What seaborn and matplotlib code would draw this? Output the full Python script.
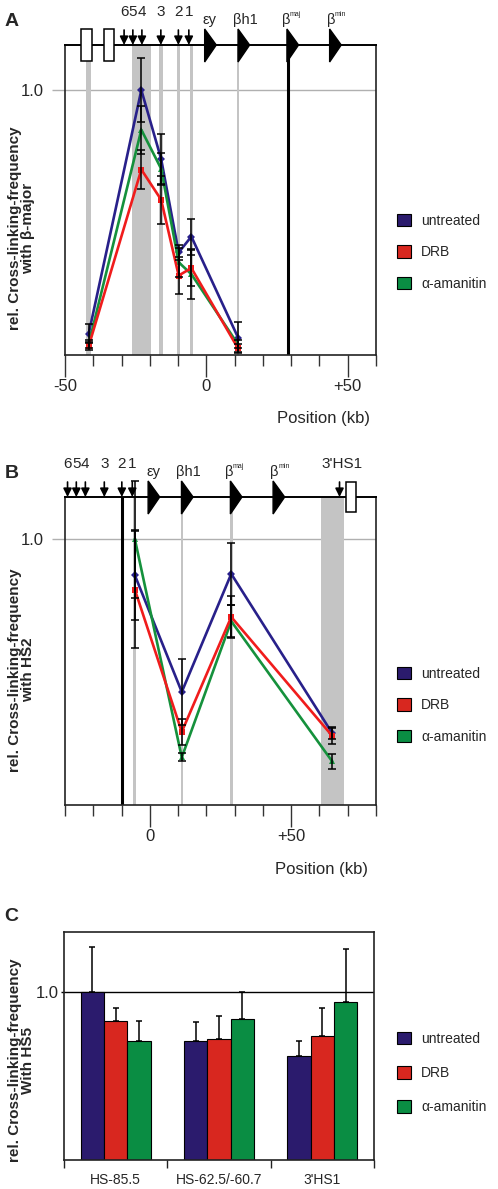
import numpy as np
import pandas as pd
import matplotlib
matplotlib.use("Agg")
import matplotlib.pyplot as plt
import matplotlib.transforms as mtransforms
from matplotlib.patches import Patch, Rectangle, Polygon
from matplotlib.ticker import MultipleLocator, FixedLocator
import seaborn as sns

# ---------------- data ----------------
treatments = ["untreated", "DRB", "α-amanitin"]

# Panel A (anchor: beta-major)
a_pos = [-41.6, -23.0, -16.0, -9.8, -5.3, 11.2]
a_untreated = [0.081, 1.0, 0.74, 0.387, 0.447, 0.066]
a_drb = [0.034, 0.70, 0.586, 0.30, 0.328, 0.025]
a_amanitin = [0.042, 0.85, 0.703, 0.35, 0.305, 0.04]
a_err_untreated = [0.036, 0.12, 0.095, 0.03, 0.068, 0.057]
a_err_drb = [0.015, 0.075, 0.09, 0.07, 0.068, 0.015]
a_err_amanitin = [0.015, 0.09, 0.06, 0.055, 0.095, 0.015]

# Panel B (anchor: HS2)
b_pos = [-5.3, 11.3, 28.8, 64.5]
b_untreated = [0.864, 0.425, 0.869, 0.27]
b_drb = [0.81, 0.275, 0.707, 0.26]
b_amanitin = [1.0, 0.179, 0.691, 0.164]
b_err_untreated = [0.17, 0.125, 0.116, 0.02]
b_err_drb = [0.22, 0.05, 0.08, 0.032]
b_err_amanitin = [0.22, 0.015, 0.06, 0.027]

# Panel C (anchor: HS5)
c_sites = ["HS-85.5", "HS-62.5/-60.7", "3'HS1"]
c_untreated = [1.0, 0.706, 0.615]
c_drb = [0.827, 0.716, 0.738]
c_amanitin = [0.706, 0.839, 0.939]
c_err_untreated = [0.265, 0.111, 0.091]
c_err_drb = [0.074, 0.141, 0.163]
c_err_amanitin = [0.122, 0.157, 0.316]

# locus map annotations (kb)
hs_labels = ["6", "5", "4", "3", "2", "1"]
hs_pos = [-29.1, -26.0, -22.8, -16.1, -9.9, -6.2]
gene_labels = ["εy", "βh1", "β", "β"]
gene_sups = ["", "", "maj", "min"]
gene_pos = [-0.6, 11.2, 28.5, 43.6]
a_boxes = [(-44.2, -40.6), (-36.2, -32.7)]
b_boxes = [(69.4, 73.0)]
b_extra_arrow_pos = [67.1]
b_extra_arrow_labels = ["3'HS1"]
a_probes = [(-42.4, -40.8), (-26.4, -19.5), (-16.7, -15.3), (-10.3, -9.3), (-5.8, -4.8), (10.7, 11.7)]
b_probes = [(-5.8, -4.8), (10.9, 11.8), (28.4, 29.3), (60.6, 68.6)]
a_anchor = 28.9
b_anchor = -9.7

# ---------------- style ----------------
sns.set_style("white")
plt.rcParams["font.family"] = ["Liberation Sans", "DejaVu Sans"]

line_colors = {"untreated": "#28208a", "DRB": "#f01c1c", "α-amanitin": "#15913c"}
bar_colors = ["#2b1b6d", "#d8271f", "#0a8d43"]
markers = {"untreated": "D", "DRB": "s", "α-amanitin": "^"}
PX = 0.72  # points per pixel at 100 dpi

W, H = 498, 1189
fig = plt.figure(figsize=(W / 100, H / 100), dpi=100)


def rect(l, t, r, b):
    return [l / W, 1 - b / H, (r - l) / W, (b - t) / H]


axA = fig.add_axes(rect(65, 45, 376, 355))
axB = fig.add_axes(rect(65, 497, 376, 805))
axC = fig.add_axes(rect(64, 932, 374, 1160))


def long_df(pos, series):
    rows = []
    for name, vals in zip(treatments, series):
        for p, v in zip(pos, vals):
            rows.append({"pos": p, "value": v, "treatment": name})
    return pd.DataFrame(rows)


def line_panel(ax, pos, series, errs, probes, anchor, xlim, ylim, majors, major_labels):
    ax.set_xlim(*xlim)
    ax.set_ylim(*ylim)
    ax.axhline(1.0, color="#b0b0b0", lw=1.0, zorder=0.5)
    for s, e in probes:
        ax.axvspan(s, e, color="#c4c4c4", lw=0, zorder=0.6)
    ax.axvline(anchor, color="black", lw=2.2, zorder=1)
    df = long_df(pos, series)
    sns.lineplot(data=df, x="pos", y="value", hue="treatment",
                 hue_order=["untreated", "α-amanitin", "DRB"],
                 palette=line_colors, style="treatment", markers=markers,
                 dashes=False, linewidth=1.9, markersize=4.5,
                 markeredgewidth=0, legend=False, sort=False, ax=ax, zorder=3)
    for name, vals, err in zip(treatments, series, errs):
        cont = ax.errorbar(pos, vals, yerr=err, fmt="none", ecolor="black",
                           elinewidth=1.1, capsize=3, capthick=1.1, zorder=5)
        for art in cont.get_children():
            art.set_clip_on(False)
    ax.set_xlabel("")
    ax.set_ylabel("")
    ax.xaxis.set_major_locator(FixedLocator(majors))
    ax.set_xticklabels(major_labels)
    ax.xaxis.set_minor_locator(MultipleLocator(10))
    ax.tick_params(axis="x", which="major", direction="out", length=21.7 * PX,
                   width=1.0, color="#333333", labelsize=12, pad=1.5, bottom=True)
    ax.tick_params(axis="x", which="minor", direction="out", length=11 * PX,
                   width=1.0, color="#333333", bottom=True)
    ax.set_yticks([1.0])
    ax.set_yticklabels(["1.0"])
    ax.tick_params(axis="y", direction="out", length=13 * PX, width=1.0,
                   color="#b0b0b0", labelsize=12, pad=6, left=True)
    for sp in ax.spines.values():
        sp.set_color("#222222")
        sp.set_linewidth(1.2)
        sp.set_visible(True)
    ax.spines["top"].set_color("black")
    ax.spines["top"].set_linewidth(1.4)


def gene_map(ax, boxes, box_up, box_dn, extra_pos, extra_labels):
    blend = mtransforms.blended_transform_factory(ax.transData, ax.transAxes)
    hpx = ax.bbox.height

    def fy(px):
        return 1 + px / hpx

    def arrow(x):
        ax.annotate("", xy=(x, 1), xycoords=blend, xytext=(x, fy(15)), textcoords=blend,
                    arrowprops=dict(arrowstyle="-|>,head_length=0.5,head_width=0.25",
                                    color="black", lw=1.2, shrinkA=0, shrinkB=0),
                    annotation_clip=False)

    def label(x, s, dx, dy, size, ha="center"):
        ax.annotate(s, xy=(x, 1), xycoords=blend, xytext=(dx * PX, dy * PX),
                    textcoords="offset points", ha=ha, va="baseline",
                    fontsize=size, annotation_clip=False)

    for x, lab in zip(hs_pos, hs_labels):
        arrow(x)
        label(x, lab, 0, 29, 11)
    for x, lab in zip(extra_pos, extra_labels):
        arrow(x)
        label(x, lab, 2, 29, 11)
    gene_dx = [5, 7, -1, 1.5]
    for x, lab, sup, dx in zip(gene_pos, gene_labels, gene_sups, gene_dx):
        tri = Polygon([(x, fy(16)), (x, fy(-17)), (x + 4.1, 1)], closed=True,
                      transform=blend, facecolor="black", edgecolor="black",
                      clip_on=False, zorder=6)
        ax.add_patch(tri)
        label(x, lab, dx, 21, 10.5)
        if sup:
            label(x, sup, dx + 3.5, 29, 5, ha="left")
    for s, e in boxes:
        r = Rectangle((s, fy(-box_dn)), e - s, (box_up + box_dn) / hpx, transform=blend,
                      facecolor="white", edgecolor="black", lw=1.1, clip_on=False, zorder=6)
        ax.add_patch(r)


def legend(ax, top_px, spacing):
    handles = [Patch(facecolor=c, edgecolor="black", linewidth=0.8) for c in bar_colors]
    ax.legend(handles, treatments, loc="upper left",
              bbox_to_anchor=(397 / W, 1 - top_px / H), bbox_transform=fig.transFigure,
              frameon=False, fontsize=10, handlelength=1.0, handleheight=1.0,
              handletextpad=0.75, labelspacing=spacing, borderpad=0, borderaxespad=0)


# ---------------- Panel A ----------------
line_panel(axA, a_pos, [a_untreated, a_drb, a_amanitin],
           [a_err_untreated, a_err_drb, a_err_amanitin], a_probes, a_anchor,
           (-50, 60), (0, 1.17), [-50, 0, 50], ["-50", "0", "+50"])
gene_map(axA, a_boxes, 16, 16, [], [])
legend(axA, 214, 1.25)
axA.text(0.83, -0.204, "Position (kb)", transform=axA.transAxes, ha="center",
         va="center", fontsize=12)

# ---------------- Panel B ----------------
line_panel(axB, b_pos, [b_untreated, b_drb, b_amanitin],
           [b_err_untreated, b_err_drb, b_err_amanitin], b_probes, b_anchor,
           (-30, 80), (0, 1.158), [0, 50], ["0", "+50"])
gene_map(axB, b_boxes, 15.5, 14.5, b_extra_arrow_pos, b_extra_arrow_labels)
legend(axB, 667, 1.25)
axB.text(0.825, -0.211, "Position (kb)", transform=axB.transAxes, ha="center",
         va="center", fontsize=12)

# ---------------- Panel C ----------------
dfc = long_df(c_sites, [c_untreated, c_drb, c_amanitin])
dfc = dfc.rename(columns={"pos": "site"})
sns.barplot(data=dfc, x="site", y="value", hue="treatment", hue_order=treatments,
            palette=bar_colors, width=0.68, saturation=1, edgecolor="black",
            linewidth=0.8, errorbar=None, legend=False, ax=axC, zorder=2)
for cont, err in zip(axC.containers, [c_err_untreated, c_err_drb, c_err_amanitin]):
    xs = [b.get_x() + b.get_width() / 2 for b in cont]
    ys = [b.get_height() for b in cont]
    eb = axC.errorbar(xs, ys, yerr=[[0] * len(err), err], fmt="none", ecolor="black",
                      elinewidth=1.1, capsize=2.5, capthick=1.1, zorder=1)
    for art in eb.get_children():
        art.set_clip_on(False)
axC.set_xlim(-0.5, 2.5)
axC.set_ylim(0, 1.354)
axC.axhline(1.0, color="black", lw=1.0, zorder=0.5)
axC.set_xlabel("")
axC.set_ylabel("")
axC.set_xticks([0, 1, 2])
axC.set_xticklabels(c_sites)
axC.xaxis.set_minor_locator(FixedLocator([-0.5, 0.5, 1.5, 2.5]))
axC.tick_params(axis="x", which="major", length=0, labelsize=10, pad=9.5)
axC.tick_params(axis="x", which="minor", direction="out", length=8 * PX, width=1.0,
                color="#222222", bottom=True)
axC.set_yticks([1.0])
axC.set_yticklabels(["1.0"])
axC.tick_params(axis="y", direction="out", length=3 * PX, width=1.0, color="black",
                labelsize=12, pad=1.5, left=True)
for sp in axC.spines.values():
    sp.set_color("#222222")
    sp.set_linewidth(1.2)
    sp.set_visible(True)
legend(axC, 1032, 1.45)

# ---------------- y labels & panel letters ----------------
ylabels = [("rel. Cross-linking-frequency\nwith β-major", 228),
           ("rel. Cross-linking-frequency\nwith HS2", 670),
           ("rel. Cross-linking-frequency\nWith HS5", 1060)]
for txt, yc in ylabels:
    fig.text(21.5 / W, 1 - yc / H, txt, rotation=90, ha="center", va="center",
             multialignment="center", fontsize=11, fontweight="bold", linespacing=0.95)
for letter, yc in [("A", 22), ("B", 473), ("C", 916.5)]:
    fig.text(11.5 / W, 1 - yc / H, letter, ha="center", va="center", fontsize=14,
             fontweight="bold")

fig.savefig("out.png", dpi=100)
